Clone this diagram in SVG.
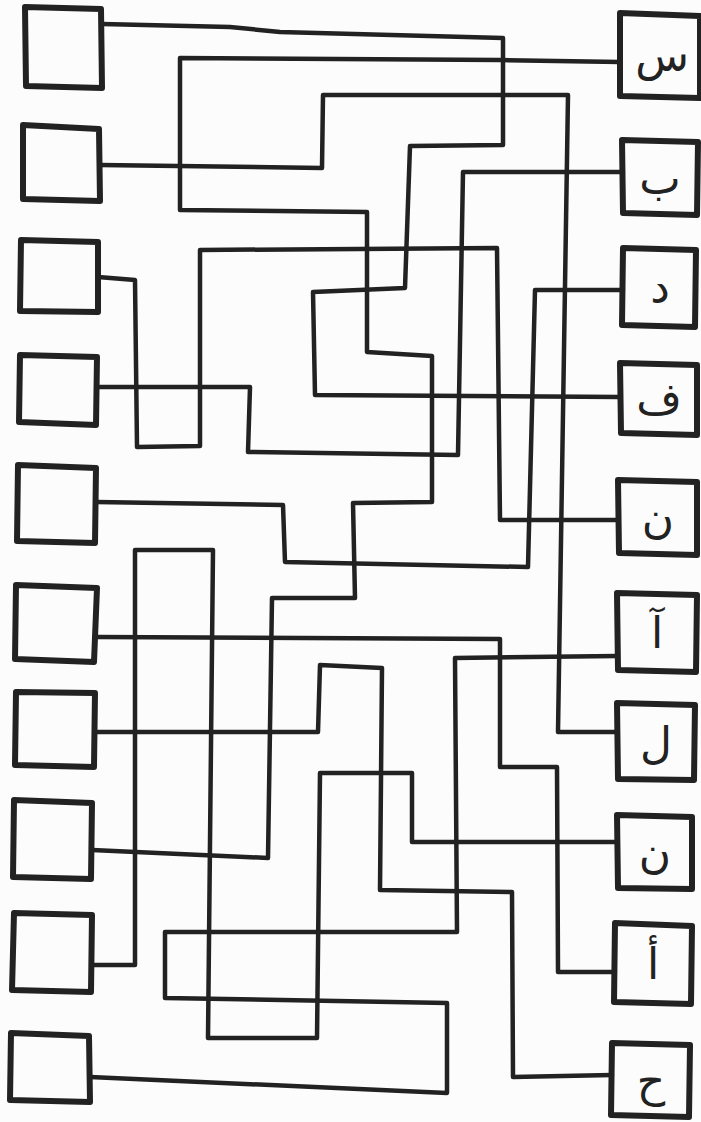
<svg xmlns="http://www.w3.org/2000/svg" width="701" height="1122" viewBox="0 0 701 1122">
<style>
.box{fill:none;stroke:#222;stroke-width:6;stroke-linejoin:round}
.ln{fill:none;stroke:#222;stroke-width:4.5;stroke-linejoin:round;stroke-linecap:round}
.lbl{font-family:"DejaVu Sans",sans-serif;font-size:44px;fill:#222;text-anchor:middle;dominant-baseline:central}
</style>
<rect width="701" height="1122" fill="#fcfcfc"/>
<g id="connectors">
<polyline class="ln" points="102,24 230,27 280,32 503,38 503,145 410,146 405,288 313,292 315,395 620,397"/>
<polyline class="ln" points="620,62 500,60 180,58 180,210 367,212 367,352 432,356 432,502 353,503 355,598 272,598 268,858 92,850"/>
<polyline class="ln" points="100,165 322,168 323,95 568,95 558,732 617,732"/>
<polyline class="ln" points="623,172 463,172 458,455 248,452 250,387 97,387"/>
<polyline class="ln" points="623,290 535,290 528,567 285,562 283,505 96,502"/>
<polyline class="ln" points="98,277 135,280 137,447 200,446 200,250 497,248 500,520 618,520"/>
<polyline class="ln" points="97,637 500,639 500,767 557,767 558,972 615,972"/>
<polyline class="ln" points="95,732 318,732 320,665 382,668 380,890 512,892 513,1077 612,1075"/>
<polyline class="ln" points="90,1077 447,1093 447,1003 165,998 165,932 457,932 455,658 617,656"/>
<polyline class="ln" points="92,965 135,965 135,550 213,550 208,1038 317,1038 320,773 412,773 412,842 617,842"/>
</g>
<g id="left-1"><polygon class="box" points="25,7 101,9 102,88 26,86"/></g>
<g id="left-2"><polygon class="box" points="23,125 99,129 100,201 23,199"/></g>
<g id="left-3"><polygon class="box" points="21,240 98,242 98,312 20,311"/></g>
<g id="left-4"><polygon class="box" points="20,355 97,357 96,425 19,422"/></g>
<g id="left-5"><polygon class="box" points="18,465 96,468 95,543 17,541"/></g>
<g id="left-6"><polygon class="box" points="16,585 97,588 94,662 15,659"/></g>
<g id="left-7"><polygon class="box" points="16,692 95,693 94,767 15,765"/></g>
<g id="left-8"><polygon class="box" points="14,800 92,803 91,879 13,877"/></g>
<g id="left-9"><polygon class="box" points="14,913 92,915 91,992 12,990"/></g>
<g id="left-10"><polygon class="box" points="11,1033 89,1036 90,1102 10,1100"/></g>
<g id="right-1"><polygon class="box" points="620,13 700,16 700,98 620,96"/><text class="lbl" x="662" y="55">س</text></g>
<g id="right-2"><polygon class="box" points="622,140 698,142 697,215 623,213"/><text class="lbl" x="660" y="178">ب</text></g>
<g id="right-3"><polygon class="box" points="623,248 696,250 695,327 622,325"/><text class="lbl" x="660" y="287">د</text></g>
<g id="right-4"><polygon class="box" points="620,363 697,365 697,435 621,433"/><text class="lbl" x="659" y="398">ف</text></g>
<g id="right-5"><polygon class="box" points="618,480 697,482 697,555 619,553"/><text class="lbl" x="658" y="517">ن</text></g>
<g id="right-6"><polygon class="box" points="617,593 697,595 696,672 618,670"/><text class="lbl" x="657" y="632">آ</text></g>
<g id="right-7"><polygon class="box" points="617,703 695,705 694,780 618,779"/><text class="lbl" x="656" y="742">ل</text></g>
<g id="right-8"><polygon class="box" points="617,815 692,817 692,889 618,888"/><text class="lbl" x="655" y="852">ن</text></g>
<g id="right-9"><polygon class="box" points="615,923 692,926 691,1004 614,1002"/><text class="lbl" x="653" y="963">أ</text></g>
<g id="right-10"><polygon class="box" points="612,1043 690,1045 689,1117 611,1115"/><text class="lbl" x="651" y="1080">ح</text></g>
</svg>
